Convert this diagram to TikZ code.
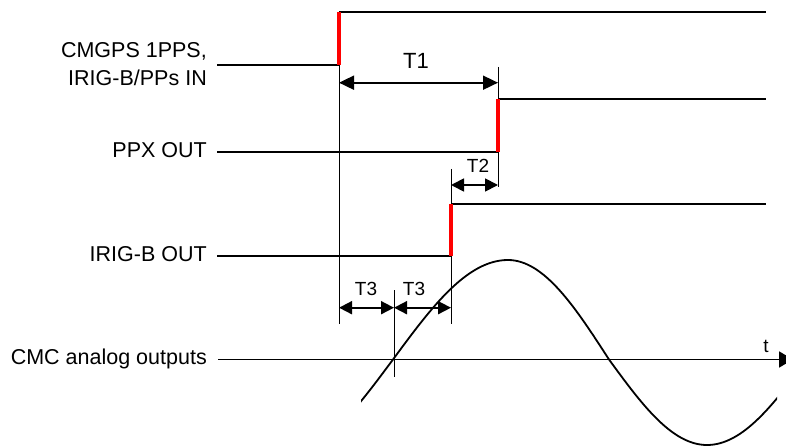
\documentclass[tikz,border=0pt]{standalone}
\usepackage{fontspec}
\setmainfont{Liberation Sans}
\usetikzlibrary{arrows.meta}
\begin{document}
\begin{tikzpicture}[x=1pt,y=-1pt,
  sig/.style={line width=1.8pt},
  redge/.style={line width=4pt, red},
  guide/.style={line width=1pt},
  dimarrow/.style={line width=1.8pt, {Triangle[length=15pt,width=14pt]}-{Triangle[length=15pt,width=14pt]}},
  sdimarrow/.style={line width=1.8pt, {Triangle[length=13pt,width=13pt]}-{Triangle[length=13pt,width=13pt]}},
  lbl/.style={inner sep=0pt, font=\fontsize{21.5}{25}\selectfont, anchor=base east},
  tlbl/.style={inner sep=0pt, font=\fontsize{19}{23}\selectfont, anchor=base},
  bigtlbl/.style={inner sep=0pt, font=\fontsize{22}{26}\selectfont, anchor=base}]
\useasboundingbox (0,0) rectangle (786,446);

% labels
\node[lbl] (l1a) at (207,58) {CMGPS 1PPS,};
\node[lbl] (l1b) at (207,86) {IRIG-B/PPs IN};
\node[lbl] (l2) at (207,158) {PPX OUT};
\node[lbl] (l3) at (207,261) {IRIG-B OUT};
\node[lbl] (l4) at (207,364) {CMC analog outputs};

% coordinates
\coordinate (s1a) at (217,65);  \coordinate (e1lo) at (339,65);  \coordinate (e1hi) at (339,12);  \coordinate (s1b) at (766,12);
\coordinate (s2a) at (217,152); \coordinate (e2lo) at (498,152); \coordinate (e2hi) at (498,99);  \coordinate (s2b) at (766,99);
\coordinate (s3a) at (217,256); \coordinate (e3lo) at (451,256); \coordinate (e3hi) at (451,204); \coordinate (s3b) at (766,204);
\coordinate (ax0) at (218,359.5); \coordinate (ax1) at (793,359.5);

% guides
\draw[guide] (e1lo) -- (339,324);
\draw[guide] (498,67) -- (498,187);
\draw[guide] (451,169) -- (451,324);
\draw[guide] (394,290) -- (394,377);

% signals
\draw[sig] (s1a) -- (e1lo);
\draw[sig] (e1hi) -- (s1b);
\draw[redge] (e1lo) -- (e1hi);
\draw[sig] (s2a) -- (e2lo);
\draw[sig] (e2hi) -- (s2b);
\draw[redge] (e2lo) -- (e2hi);
\draw[sig] (s3a) -- (e3lo);
\draw[sig] (e3hi) -- (s3b);
\draw[redge] (e3lo) -- (e3hi);

% axis
\draw[sig, -{Triangle[length=14pt,width=16pt]}] (ax0) -- (ax1);
\node[tlbl] (tt) at (766,352) {t};

% dimension arrows
\coordinate (t1a) at (339,82.7); \coordinate (t1b) at (498,82.7);
\draw[dimarrow] (t1a) -- (t1b);
\node[bigtlbl] (T1) at (416,69) {T1};
\coordinate (t2a) at (451,185); \coordinate (t2b) at (498,185);
\draw[sdimarrow] (t2a) -- (t2b);
\node[tlbl] (T2) at (478,173) {T2};
\coordinate (t3a) at (339,307.7); \coordinate (t3m) at (394,307.7); \coordinate (t3b) at (451,307.7);
\draw[sdimarrow] (t3a) -- (t3m);
\draw[sdimarrow] (t3m) -- (t3b);
\node[tlbl] (T3a) at (366,295) {T3};
\node[tlbl] (T3b) at (414,295) {T3};

% sine
\begin{scope}
\clip (361,0) rectangle (777,446);
\draw[sig] (278,458) cos (393,359.5) sin (508,260) cos (609,359.5) sin (707,445) cos (807,359.5);
\end{scope}
\end{tikzpicture}
\end{document}
